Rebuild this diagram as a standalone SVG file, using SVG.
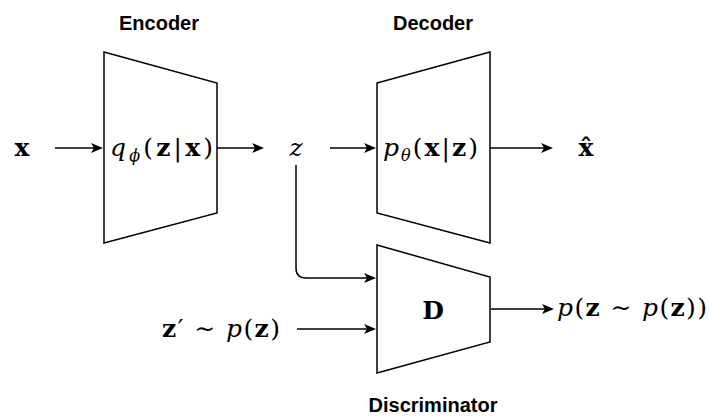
<svg xmlns="http://www.w3.org/2000/svg" width="709" height="417" viewBox="0 0 709 417">
<defs>
<style>
.lbl{font-family:"Liberation Sans",Arial,sans-serif;font-weight:bold;font-size:20px;fill:#000;text-anchor:middle}
.m{font-family:"DejaVu Serif","Liberation Serif",serif;font-size:25px;fill:#000}
.b{font-weight:bold}
.i{font-style:italic}
.shape{fill:#fff;stroke:#000;stroke-width:1.5}
.conn{fill:none;stroke:#000;stroke-width:1.5}
</style>
<marker id="arr" markerUnits="userSpaceOnUse" markerWidth="13" markerHeight="11" refX="7" refY="5" orient="auto">
<path d="M0,0 L12,5 L0,10 L3,5 Z" fill="#000"/>
</marker>
</defs>
<rect width="709" height="417" fill="#fff"/>
<g id="encoder">
<polygon class="shape" points="104,52 217,83 217,213 104,243"/>
<text class="lbl" x="159" y="30">Encoder</text>
<text class="m" x="110" y="156" textLength="103" lengthAdjust="spacing"><tspan class="i">q</tspan><tspan class="i" font-size="16" dy="5">ϕ</tspan><tspan dy="-5">(</tspan><tspan class="b">z</tspan>|<tspan class="b">x</tspan>)</text>
</g>
<g id="decoder">
<polygon class="shape" points="377,83 490,52 490,243 377,213"/>
<text class="lbl" x="433" y="30">Decoder</text>
<text class="m" x="383" y="156" textLength="95" lengthAdjust="spacing"><tspan class="i">p</tspan><tspan class="i" font-size="16" dy="5">θ</tspan><tspan dy="-5">(</tspan><tspan class="b">x</tspan>|<tspan class="b">z</tspan>)</text>
</g>
<g id="discriminator">
<polygon class="shape" points="377,245 490,277 490,342 377,373"/>
<text class="m b" x="433" y="319" text-anchor="middle">D</text>
<text class="lbl" x="433" y="412">Discriminator</text>
</g>
<g id="input-x">
<text class="m b" x="22" y="156" text-anchor="middle">x</text>
</g>
<g id="latent-z">
<text class="m i" x="296" y="156" text-anchor="middle">z</text>
</g>
<g id="output-xhat">
<text class="m b" x="586" y="156" text-anchor="middle">x̂</text>
</g>
<g id="prior-sample">
<text class="m" x="162" y="337" textLength="118" lengthAdjust="spacing"><tspan class="b">z</tspan>′ ∼ <tspan class="i">p</tspan>(<tspan class="b">z</tspan>)</text>
</g>
<g id="disc-output">
<text class="m" x="557" y="316" textLength="150" lengthAdjust="spacing"><tspan class="i">p</tspan>(<tspan class="b">z</tspan> ∼ <tspan class="i">p</tspan>(<tspan class="b">z</tspan>))</text>
</g>
<g id="connectors">
<path class="conn" marker-end="url(#arr)" d="M55,148 H98"/>
<path class="conn" marker-end="url(#arr)" d="M217,148 H259"/>
<path class="conn" marker-end="url(#arr)" d="M330,148 H371"/>
<path class="conn" marker-end="url(#arr)" d="M490,148 H548"/>
<path class="conn" marker-end="url(#arr)" d="M296,165 V268 Q296,278 306,278 H371"/>
<path class="conn" marker-end="url(#arr)" d="M297,329 H371"/>
<path class="conn" marker-end="url(#arr)" d="M491,309 H549"/>
</g>
</svg>
